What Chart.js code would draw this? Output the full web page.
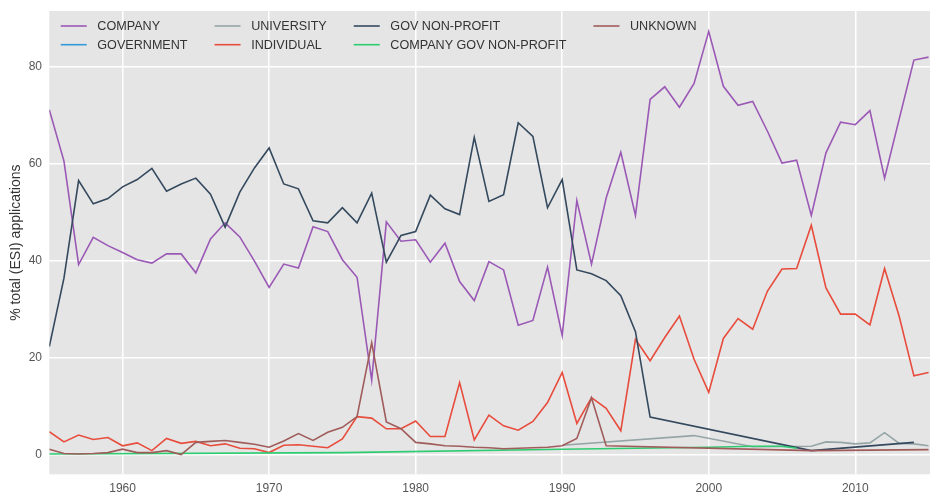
<!DOCTYPE html>
<html>
<head>
<meta charset="utf-8">
<script src="https://cdn.jsdelivr.net/npm/chart.js@4.4.1/dist/chart.umd.min.js"></script>
<style>
  html, body { margin: 0; padding: 0; background: #fff; overflow: hidden; }
  #wrap { position: relative; width: 930px; height: 493px; }
</style>
</head>
<body>
<div id="wrap"><canvas id="chart"></canvas></div>
<script>
// Years on the x axis (one value per year, null = no reading that year)
const years = [1955, 1956, 1957, 1958, 1959, 1960, 1961, 1962, 1963, 1964,
               1965, 1966, 1967, 1968, 1969, 1970, 1971, 1972, 1973, 1974,
               1975, 1976, 1977, 1978, 1979, 1980, 1981, 1982, 1983, 1984,
               1985, 1986, 1987, 1988, 1989, 1990, 1991, 1992, 1993, 1994,
               1995, 1996, 1997, 1998, 1999, 2000, 2001, 2002, 2003, 2004,
               2005, 2006, 2007, 2008, 2009, 2010, 2011, 2012, 2013, 2014, 2015];

const company = [71.1, 60.5, 39.2, 44.8, 43.1, 41.7, 40.2, 39.5, 41.4, 41.4,
                 37.5, 44.5, 47.8, 44.9, 39.9, 34.5, 39.3, 38.5, 47.0, 46.0,
                 40.2, 36.6, 15.4, 48.0, 44.0, 44.3, 39.7, 43.6, 35.7, 31.8,
                 39.8, 38.1, 26.7, 27.7, 38.7, 24.6, 52.4, 39.3, 52.9, 62.3,
                 49.3, 73.2, 75.8, 71.6, 76.5, 87.2, 75.9, 72.0, 72.8, 66.7,
                 60.1, 60.7, 49.3, 62.2, 68.5, 68.0, 70.9, 57.0, 69.2, 81.3, 81.9];

const government = [];

const university = [null, null, null, null, null, null, null, null, null, null,
                    null, null, null, null, null, null, null, null, null, null,
                    null, null, null, null, null, null, null, null, null, null,
                    null, null, null, null, null, 2.0, null, null, null, null,
                    null, null, null, null, 4.0, null, null, null, 1.7, null,
                    null, null, 1.8, 2.7, 2.6, 2.3, 2.5, 4.6, 2.4, 2.3, 1.9];

const individual = [4.8, 2.7, 4.1, 3.2, 3.6, 1.9, 2.5, 0.9, 3.4, 2.4,
                    2.8, 1.9, 2.3, 1.4, 1.3, 0.5, 2.0, 2.1, 1.8, 1.5,
                    3.3, 7.9, 7.6, 5.4, 5.4, 7.0, 3.8, 3.8, 14.9, 3.1,
                    8.2, 6.0, 5.1, 6.9, 10.8, 17.0, 6.5, 11.8, 9.6, 5.0,
                    23.8, 19.4, 24.2, 28.6, 19.7, 12.9, 24.0, 28.1, 25.9, 33.7,
                    38.3, 38.4, 47.3, 34.4, 29.0, 29.0, 26.8, 38.4, 28.5, 16.3, 17.0];

const govNonProfit = [22.3, 36.4, 56.5, 51.7, 52.8, 55.2, 56.7, 59.0, 54.3, 55.8,
                      57.0, 53.7, 46.9, 54.1, 59.1, 63.2, 55.8, 54.8, 48.2, 47.8,
                      50.9, 47.8, 53.9, 39.7, 45.2, 46.0, 53.5, 50.7, 49.5, 65.4,
                      52.2, 53.6, 68.4, 65.6, 50.9, 56.7, 38.1, 37.3, 35.9, 32.8,
                      25.4, 7.8, null, null, null, null, null, null, null, null,
                      null, null, 0.9, null, null, null, null, null, null, 2.6, null];

const companyGovNonProfit = [0.2, null, null, null, null, null, null, null, null, null,
                             null, null, null, null, null, null, null, null, null, null,
                             0.5, null, null, null, null, null, null, null, null, null,
                             null, null, null, null, null, 1.2, null, null, null, null,
                             null, null, null, null, null, 1.6, null, null, 1.8, null,
                             1.8, 1.4, null, null, null, null, null, null, null, null, null];

const unknown = [1.2, 0.3, 0.2, 0.3, 0.5, 1.2, 0.5, 0.5, 0.9, 0.1,
                 2.6, 2.8, 3.0, 2.6, 2.2, 1.6, 2.9, 4.4, 3.0, 4.7,
                 5.7, 7.9, 23.1, 6.8, 5.4, 2.6, 2.3, 1.9, 1.8, 1.6,
                 1.5, 1.3, 1.4, 1.5, 1.6, 1.9, 3.4, 11.8, 1.9, null,
                 null, null, null, null, null, null, null, null, null, null,
                 null, null, 0.9, null, null, null, null, null, null, null, 1.1];

const seriesNames = ['COMPANY', 'GOVERNMENT', 'UNIVERSITY', 'INDIVIDUAL',
                     'GOV NON-PROFIT', 'COMPANY GOV NON-PROFIT', 'UNKNOWN'];
const seriesValues = [company, government, university, individual,
                      govNonProfit, companyGovNonProfit, unknown];
const seriesColors = ['#9b59b6', '#3498db', '#95a5a6', '#e74c3c',
                      '#34495e', '#2ecc71', '#a05c5a'];

const xTicks = [1960, 1970, 1980, 1990, 2000, 2010];
const yTicks = [0, 20, 40, 60, 80];

const FONT = '"Liberation Sans", Arial, sans-serif';

// grey ggplot-style panel behind the lines
const plotBackground = {
    id: 'plotBackground',
    beforeDraw(chart) {
        const { ctx, chartArea: a } = chart;
        ctx.save();
        ctx.fillStyle = '#e5e5e5';
        ctx.fillRect(a.left, a.top, a.right - a.left, a.bottom - a.top);
        ctx.restore();
    }
};

// legend filled column by column (2 rows), no frame
const columnLegend = {
    id: 'columnLegend',
    afterDatasetsDraw(chart) {
        const { ctx, chartArea: a } = chart;
        const sets = chart.data.datasets;
        ctx.save();
        ctx.font = '12.6px ' + FONT;
        ctx.textBaseline = 'middle';
        ctx.textAlign = 'left';
        let x = a.left + 11.4;
        for (let c = 0; c * 2 < sets.length; c++) {
            let widest = 0;
            sets.slice(c * 2, c * 2 + 2).forEach((ds, r) => {
                const y = a.top + 15 + r * 18.7;
                ctx.strokeStyle = ds.borderColor;
                ctx.lineWidth = 1.6;
                ctx.beginPath();
                ctx.moveTo(x, y);
                ctx.lineTo(x + 26, y);
                ctx.stroke();
                ctx.fillStyle = '#333';
                ctx.fillText(ds.label, x + 36.6, y + 0.6);
                widest = Math.max(widest, ctx.measureText(ds.label).width);
            });
            x += 36.6 + widest + 27;
        }
        ctx.restore();
    }
};

const datasets = seriesNames.map((name, i) => ({
    label: name,
    data: seriesValues[i].map((v, j) => ({ x: years[j], y: v })),
    borderColor: seriesColors[i],
    backgroundColor: seriesColors[i],
    borderWidth: 1.6,
    pointRadius: 0,
    tension: 0,
    spanGaps: true,
    fill: false,
    order: seriesNames.length - i
}));

new Chart(document.getElementById('chart'), {
    type: 'line',
    data: { datasets: datasets },
    options: {
        responsive: true,
        maintainAspectRatio: false,
        animation: false,
        layout: { padding: { top: 11, right: 0, bottom: 0, left: 0 } },
        plugins: {
            legend: { display: false },
            tooltip: { enabled: false }
        },
        scales: {
            x: {
                type: 'linear',
                min: 1955,
                max: 2015.1,
                afterBuildTicks: s => { s.ticks = xTicks.map(v => ({ value: v })); },
                afterFit: s => { s.height = 18.7; },
                border: { display: false },
                grid: { color: '#ffffff', lineWidth: 1.5, drawTicks: false },
                ticks: {
                    padding: 7.3,
                    color: '#555',
                    font: { family: FONT, size: 12 },
                    callback: v => String(v)
                }
            },
            y: {
                min: -3.97,
                max: 91.4,
                afterBuildTicks: s => { s.ticks = yTicks.map(v => ({ value: v })); },
                afterFit: s => {
                    s.width = 49.3;
                    // keep the panel flush with the top padding
                    s.paddingTop = 0;
                    s.paddingBottom = 0;
                },
                border: { display: false },
                grid: { color: '#ffffff', lineWidth: 1.5, drawTicks: false },
                ticks: {
                    padding: 7.3,
                    color: '#555',
                    font: { family: FONT, size: 12 },
                    callback: v => String(v)
                },
                title: {
                    display: true,
                    text: '% total (ESI) applications',
                    color: '#333',
                    font: { family: FONT, size: 14 },
                    padding: { top: 7.5, bottom: 0 }
                }
            }
        }
    },
    plugins: [plotBackground, columnLegend]
});
</script>
</body>
</html>
